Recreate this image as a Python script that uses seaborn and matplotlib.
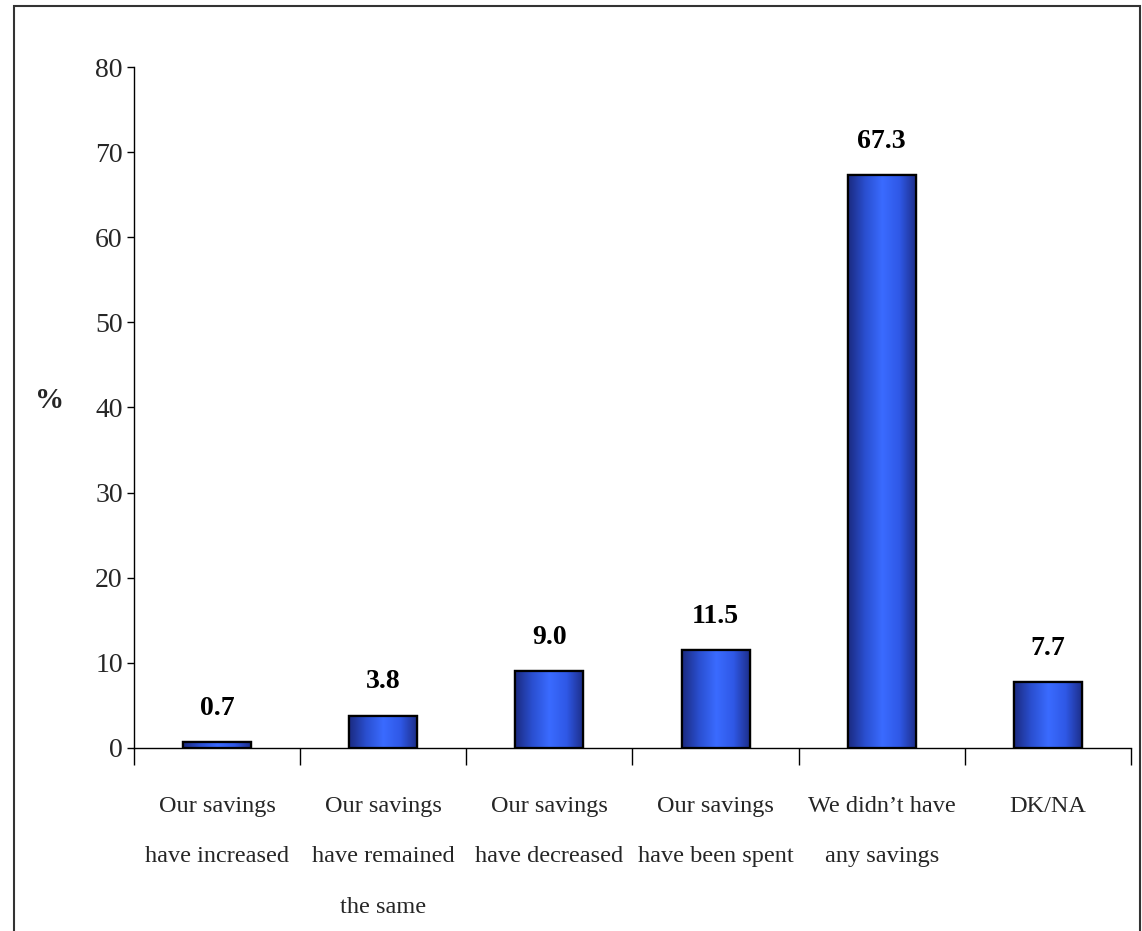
import numpy as np
import pandas as pd
import matplotlib
matplotlib.use("Agg")
import matplotlib.pyplot as plt
from matplotlib.patches import Rectangle
from matplotlib.colors import LinearSegmentedColormap
import seaborn as sns

categories = [
    "Our savings\nhave increased",
    "Our savings\nhave remained\nthe same",
    "Our savings\nhave decreased",
    "Our savings\nhave been spent",
    "We didn\u2019t have\nany savings",
    "DK/NA",
]
values = [0.7, 3.8, 9.0, 11.5, 67.3, 7.7]
y_ticks = [0, 10, 20, 30, 40, 50, 60, 70, 80]

sns.set_theme(style="white")
plt.rcParams["font.family"] = ["Liberation Serif", "DejaVu Serif"]

df = pd.DataFrame({"category": categories, "value": values})

fig = plt.figure(figsize=(11.42, 9.31), dpi=100)
ax = fig.add_axes([0.1173, 0.1966, 0.8731, 0.7314])

sns.barplot(data=df, x="category", y="value", ax=ax, color="#3366ff",
            width=0.41, edgecolor="black", linewidth=1.6, saturation=1)

# cylinder-style horizontal shading inside each bar
shade = LinearSegmentedColormap.from_list(
    "shade", ["#1b2a80", "#2a4fd0", "#3a6bff", "#2f58e6", "#1c2c85"])
grad = np.linspace(0, 1, 256).reshape(1, -1)
for patch in ax.patches:
    x0, y0 = patch.get_x(), patch.get_y()
    w, h = patch.get_width(), patch.get_height()
    im = ax.imshow(grad, cmap=shade, aspect="auto",
                   extent=[x0, x0 + w, y0, y0 + h], zorder=patch.get_zorder() + 0.1)
    im.set_clip_path(patch)
    outline = Rectangle((x0, y0), w, h, fill=False, edgecolor="black",
                        linewidth=1.6, zorder=patch.get_zorder() + 0.2)
    ax.add_patch(outline)

for i, v in enumerate(values):
    ax.text(i, v + 2.5, f"{v:.1f}", ha="center", va="bottom",
            fontsize=20, fontweight="bold", color="black")

ax.set_xlim(-0.5, len(categories) - 0.5)
ax.set_ylim(0, 80)
ax.set_yticks(y_ticks)
ax.set_yticklabels([str(t) for t in y_ticks], fontsize=20)
ax.set_xticks(np.arange(-0.5, len(categories), 1.0))
ax.set_xticklabels([])
ax.tick_params(axis="x", which="major", direction="out", length=12, width=1,
               color="black", bottom=True)
ax.tick_params(axis="y", direction="out", length=5, width=1, color="black",
               left=True, pad=3)

for i, c in enumerate(categories):
    ax.text(i, -5.6, c, ha="center", va="top", fontsize=17.5,
            linespacing=2.85, transform=ax.transData, clip_on=False)

ax.set_xlabel("")
ax.set_ylabel("%", rotation=0, fontsize=21, fontweight="bold", labelpad=55)
ax.yaxis.set_label_coords(-0.085, 0.49)

for side in ["top", "right"]:
    ax.spines[side].set_visible(False)
for side in ["left", "bottom"]:
    ax.spines[side].set_color("black")
    ax.spines[side].set_linewidth(1)
ax.grid(False)

# outer frame around the figure
frame = Rectangle((14 / 1142, -0.05), (1140 - 14) / 1142, 1.05 - 6 / 931,
                  transform=fig.transFigure, fill=False, edgecolor="#333333",
                  linewidth=1.5, clip_on=False)
fig.patches.append(frame)

fig.savefig("out.png", dpi=100)
